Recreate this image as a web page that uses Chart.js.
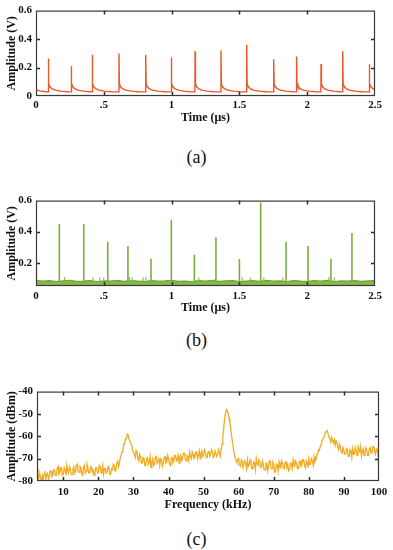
<!DOCTYPE html>
<html>
<head>
<meta charset="utf-8">
<script src="https://cdn.jsdelivr.net/npm/chart.js@4/dist/chart.umd.min.js"></script>
<style>
  body { margin: 0; background: #fff; width: 393px; height: 550px; position: relative; overflow: hidden; }
  canvas { position: absolute; left: 0; }
  .cap { position: absolute; width: 393px; left: 0; text-align: center; font-family: "Liberation Serif", serif; font-size: 18px; color: #111; line-height: 20px; }
</style>
</head>
<body>
<canvas id="chartA" width="393" height="126" style="top:0px"></canvas>
<div class="cap" style="top:147px">(a)</div>
<canvas id="chartB" width="393" height="126" style="top:190px"></canvas>
<div class="cap" style="top:330px">(b)</div>
<canvas id="chartC" width="393" height="132" style="top:381px"></canvas>
<div class="cap" style="top:529px">(c)</div>

<script>
// ---- data ----

// (a) pulse train, time in us, amplitude in V
const pulseTimesA = [0.091, 0.26, 0.415, 0.612, 0.809, 0.998, 1.173, 1.364, 1.554, 1.753, 1.922, 2.102, 2.262, 2.458];
const pulsePeaksA = [0.263, 0.211, 0.29, 0.298, 0.29, 0.27, 0.314, 0.321, 0.36, 0.258, 0.277, 0.225, 0.314, 0.223];
const tailStepsA = [0.003, 0.01, 0.025, 0.05, 0.09, 0.14];
const tailLevelsA = [0.09, 0.066, 0.052, 0.041, 0.034, 0.03];
const startTimesA = [0, 0.03, 0.06];
const startLevelsA = [0.042, 0.036, 0.032];
const baseA = 0.029;

// (b) detected spikes
const spikeTimesB = [0.172, 0.352, 0.529, 0.678, 0.848, 0.998, 1.168, 1.327, 1.5, 1.657, 1.844, 2.006, 2.175, 2.33];
const spikePeaksB = [0.45, 0.45, 0.335, 0.307, 0.226, 0.477, 0.252, 0.363, 0.224, 0.587, 0.335, 0.307, 0.224, 0.392];
const bumpTimesB = [0.004, 0.21, 0.42, 0.47, 0.50, 0.69, 0.71, 0.79, 0.81, 1.20, 1.32, 1.52, 1.58, 1.68, 1.82, 2.16, 2.20];
const bumpPeaksB = [0.11, 0.108, 0.106, 0.107, 0.106, 0.108, 0.105, 0.106, 0.108, 0.107, 0.095, 0.106, 0.105, 0.107, 0.106, 0.108, 0.106];
const bandStepB = 0.05;
const bandLevelsB = [
  0.086, 0.081, 0.084, 0.079, 0.083, 0.087, 0.080, 0.082, 0.085, 0.079,
  0.083, 0.081, 0.086, 0.080, 0.084, 0.082, 0.078, 0.085, 0.081, 0.083,
  0.087, 0.080, 0.082, 0.079, 0.084, 0.081, 0.086, 0.080, 0.083, 0.085,
  0.079, 0.082, 0.084, 0.080, 0.086, 0.081, 0.083, 0.079, 0.085, 0.082,
  0.080, 0.084, 0.081, 0.086, 0.079, 0.083, 0.082, 0.085, 0.080, 0.083,
  0.084
];
const spikeBaseB = 0.08;

// (c) spectrum, kHz / dBm, one value every 0.25 kHz from 2.5 kHz
const specStartC = 2.5;
const specStepC = 0.25;
const specLevelsC = [
  -74, -77, -79, -76.5, -78.5, -80, -77.5, -79.5, -77, -75.5, -79, -77, -76.5, -79, -78, -75.5, -75.5, -78, -77.5, -75,
  -75, -77.5, -77.5, -74.5, -73.5, -77, -76.5, -74, -74, -77.5, -77, -74, -75, -77.5, -73, -75.5, -76.5, -73.5, -74.5, -77,
  -77, -74.5, -73.5, -76.5, -75.5, -73, -72.5, -76, -76, -73.5, -74, -77, -77.5, -74, -73, -76.5, -75.5, -72.5, -74, -76.5,
  -76.5, -74, -73.5, -76, -75, -77.5, -77, -74, -74, -76.5, -76, -73, -73.5, -76.5, -75.5, -73, -77, -74.5, -74.5, -76.5,
  -76, -73.5, -74, -77, -77, -74.5, -75, -72.5, -73, -75.5, -74.5, -72, -71, -73.5, -72, -69.5, -68.5, -67, -66, -63.5,
  -63.5, -61, -61, -59, -59.5, -61.5, -61.5, -63, -64, -66.5, -67, -68, -69.5, -66.5, -67.5, -70, -71, -68, -69, -72,
  -72, -69.5, -70, -73, -73, -70, -69.5, -72.5, -71.5, -69, -74, -71.5, -70, -73, -72.5, -69.5, -69, -72, -71, -69.5,
  -73, -70, -70.5, -73.5, -72, -69.5, -69, -72, -71.5, -68.5, -70, -72.5, -73, -70, -69.5, -72, -71, -68.5, -68.5, -71,
  -70.5, -68.5, -72, -69.5, -68.5, -71, -70, -67.5, -67.5, -70, -71, -68.5, -69, -71, -67, -69, -70, -67, -68, -70,
  -69.5, -67, -67, -70, -68.5, -66.5, -70, -67.5, -66.5, -69, -68.5, -66, -67, -69.5, -69.5, -67, -66.5, -69, -68, -66,
  -67, -69.5, -69, -66.5, -66.5, -69, -68, -66, -67.5, -69, -66, -63.5, -60, -56, -52, -49.5, -48, -48.5, -50, -52,
  -54, -57, -60, -63, -65.5, -68, -69.5, -71, -72, -70, -70, -73, -73.5, -70.5, -71, -74, -74, -71, -72, -74.5,
  -70.5, -73.5, -73, -70.5, -71.5, -74.5, -74.5, -71.5, -72, -75, -70, -72.5, -73, -70.5, -71.5, -74, -74, -71, -72.5, -75,
  -75, -72, -72, -75.5, -73.5, -71, -71, -74.5, -74.5, -71.5, -72.5, -76, -76, -72.5, -73, -75.5, -71.5, -74, -74, -71,
  -72, -74.5, -74.5, -71.5, -71.5, -74, -73, -75.5, -75, -72, -72, -74.5, -70.5, -73, -73.5, -71, -72, -74.5, -74.5, -71.5,
  -71, -73.5, -73, -70.5, -70.5, -73, -74, -71, -72, -74, -70, -72.5, -72.5, -70, -71, -73, -69, -71.5, -70.5, -68.5,
  -68, -66, -66.5, -64.5, -64, -62, -62, -60.5, -60, -58, -58, -57.5, -59, -60.5, -61, -62.5, -60.5, -62, -63, -61.5,
  -64, -62, -62.5, -65, -66, -63.5, -64.5, -67, -67.5, -65, -65, -68, -68, -65.5, -66, -69, -69, -66, -67, -69.5,
  -65.5, -68, -68, -65, -66.5, -68.5, -64, -66.5, -67, -64.5, -69, -66.5, -65.5, -68.5, -67.5, -65, -66, -68.5, -68.5, -65.5,
  -65, -67.5, -67, -64.5, -64.5, -67, -68, -65.5, -66, -68.5, -66
];

// axis ticks
const timeTicks = [0, 0.5, 1, 1.5, 2, 2.5];
const timeTickLabels = ['0', '.5', '1', '1.5', '2', '2.5'];
const voltTicksA = [0, 0.2, 0.4, 0.6];
const voltTickLabelsA = ['0', '0.2', '0.4', '0.6'];
const voltTicksB = [0.2, 0.4, 0.6];
const voltTickLabelsB = ['0.2', '0.4', '0.6'];
const freqTicks = [10, 20, 30, 40, 50, 60, 70, 80, 90, 100];
const freqTickLabels = ['10', '20', '30', '40', '50', '60', '70', '80', '90', '100'];
const dbmTicks = [-80, -70, -60, -50, -40];
const dbmTickLabels = ['-80', '-70', '-60', '-50', '-40'];

// ---- build point lists ----
function pulseTrain() {
    let pts = startTimesA.map((t, i) => ({x: t, y: startLevelsA[i]}));
    pulseTimesA.forEach((t, i) => {
        pts.push({x: t - 0.001, y: baseA});
        pts.push({x: t, y: pulsePeaksA[i]});
        tailStepsA.forEach((dt, k) => pts.push({x: t + dt, y: tailLevelsA[k]}));
    });
    return pts;
}

function verticalLines(times, peaks, base) {
    let pts = [];
    times.forEach((t, i) => {
        pts.push({x: t, y: base});
        pts.push({x: t, y: peaks[i]});
        pts.push({x: t, y: null});
    });
    return pts;
}

const bandPointsB = bandLevelsB.map((v, i) => ({x: i * bandStepB, y: v}));
const specPointsC = specLevelsC.map((v, i) => ({x: specStartC + i * specStepC, y: v}));

// ---- frame with inward ticks on all four sides ----
const frameTicks = {
    id: 'frameTicks',
    afterDatasetsDraw(chart) {
        const {ctx, chartArea, scales} = chart;
        const a = chartArea;
        const len = 4;
        ctx.save();
        ctx.strokeStyle = '#2b2b2b';
        ctx.lineWidth = 1.5;
        ctx.beginPath();
        scales.x.ticks.forEach(t => {
            if (t.value <= scales.x.min || t.value >= scales.x.max) return;
            const px = Math.round(scales.x.getPixelForValue(t.value)) + 0.5;
            ctx.moveTo(px, a.bottom); ctx.lineTo(px, a.bottom - len);
            ctx.moveTo(px, a.top); ctx.lineTo(px, a.top + len);
        });
        scales.y.ticks.forEach(t => {
            if (t.value <= scales.y.min || t.value >= scales.y.max) return;
            const py = Math.round(scales.y.getPixelForValue(t.value)) + 0.5;
            ctx.moveTo(a.left, py); ctx.lineTo(a.left + len, py);
            ctx.moveTo(a.right, py); ctx.lineTo(a.right - len, py);
        });
        ctx.stroke();
        ctx.lineWidth = 1.2;
        ctx.strokeStyle = '#3a3a3a';
        ctx.strokeRect(a.left + 0.5, a.top + 0.5, a.right - a.left - 1, a.bottom - a.top - 1);
        ctx.restore();
    }
};

const tickFont = {family: '"Liberation Serif", serif', size: 11, weight: 'bold'};
const titleFont = {family: '"Liberation Serif", serif', size: 12, weight: 'bold'};

function makeChart(id, datasets, opt) {
    return new Chart(document.getElementById(id).getContext('2d'), {
        type: 'line',
        data: {datasets: datasets},
        options: {
            responsive: false,
            animation: false,
            devicePixelRatio: 1,
            layout: {padding: {top: 10, right: opt.right, left: 0, bottom: 0}},
            plugins: {legend: {display: false}, tooltip: {enabled: false}},
            elements: {point: {radius: 0}, line: {tension: 0}},
            scales: {
                x: {
                    type: 'linear',
                    min: opt.xMin, max: opt.xMax,
                    grid: {display: false, drawTicks: false},
                    border: {display: false},
                    afterBuildTicks: s => { s.ticks = opt.xTicks.map(v => ({value: v})); },
                    afterFit: s => { s.height = opt.xHeight; },
                    ticks: {
                        font: tickFont, color: '#111', padding: opt.xPad, maxRotation: 0,
                        callback: (v, i) => opt.xLabels[i]
                    },
                    title: {display: true, text: opt.xTitle, font: titleFont, color: '#111', padding: {top: 0, bottom: 1}}
                },
                y: {
                    type: 'linear',
                    min: opt.yMin, max: opt.yMax,
                    grid: {display: false, drawTicks: false},
                    border: {display: false},
                    afterBuildTicks: s => { s.ticks = opt.yTicks.map(v => ({value: v})); },
                    afterFit: s => { s.width = opt.yWidth; },
                    ticks: {
                        font: tickFont, color: '#111', padding: 4,
                        callback: (v, i) => opt.yLabels[i]
                    },
                    title: {display: true, text: opt.yTitle, font: titleFont, color: '#111', padding: {top: 5, bottom: 0}}
                }
            }
        },
        plugins: [frameTicks]
    });
}

makeChart('chartA', [
    {data: pulseTrain(), borderColor: '#e8582b', borderWidth: 1.4, fill: false}
], {
    right: 18, xMin: 0, xMax: 2.5, yMin: 0, yMax: 0.6, xHeight: 30, yWidth: 36, xPad: 3,
    xTicks: timeTicks, xLabels: timeTickLabels, yTicks: voltTicksA, yLabels: voltTickLabelsA,
    xTitle: 'Time (μs)', yTitle: 'Amplitude (V)'
});

makeChart('chartB', [
    {data: verticalLines(spikeTimesB, spikePeaksB, spikeBaseB), borderColor: '#78b03c', borderWidth: 1.6, fill: false, spanGaps: false},
    {data: verticalLines(bumpTimesB, bumpPeaksB, spikeBaseB), borderColor: '#8cc152', borderWidth: 1.2, fill: false, spanGaps: false},
    {data: bandPointsB, borderColor: '#6fa336', borderWidth: 1.2, backgroundColor: '#84b94b', fill: 'start'}
], {
    right: 18, xMin: 0, xMax: 2.5, yMin: 0.05, yMax: 0.6, xHeight: 30, yWidth: 36, xPad: 4,
    xTicks: timeTicks, xLabels: timeTickLabels, yTicks: voltTicksB, yLabels: voltTickLabelsB,
    xTitle: 'Time (μs)', yTitle: 'Amplitude (V)'
});

makeChart('chartC', [
    {data: specPointsC, borderColor: '#f0ad24', borderWidth: 1.3, fill: false}
], {
    right: 14, xMin: 2.5, xMax: 100, yMin: -80, yMax: -40, xHeight: 32, yWidth: 37, xPad: 5,
    xTicks: freqTicks, xLabels: freqTickLabels, yTicks: dbmTicks, yLabels: dbmTickLabels,
    xTitle: 'Frequency (kHz)', yTitle: 'Amplitude (dBm)'
});
</script>
</body>
</html>
